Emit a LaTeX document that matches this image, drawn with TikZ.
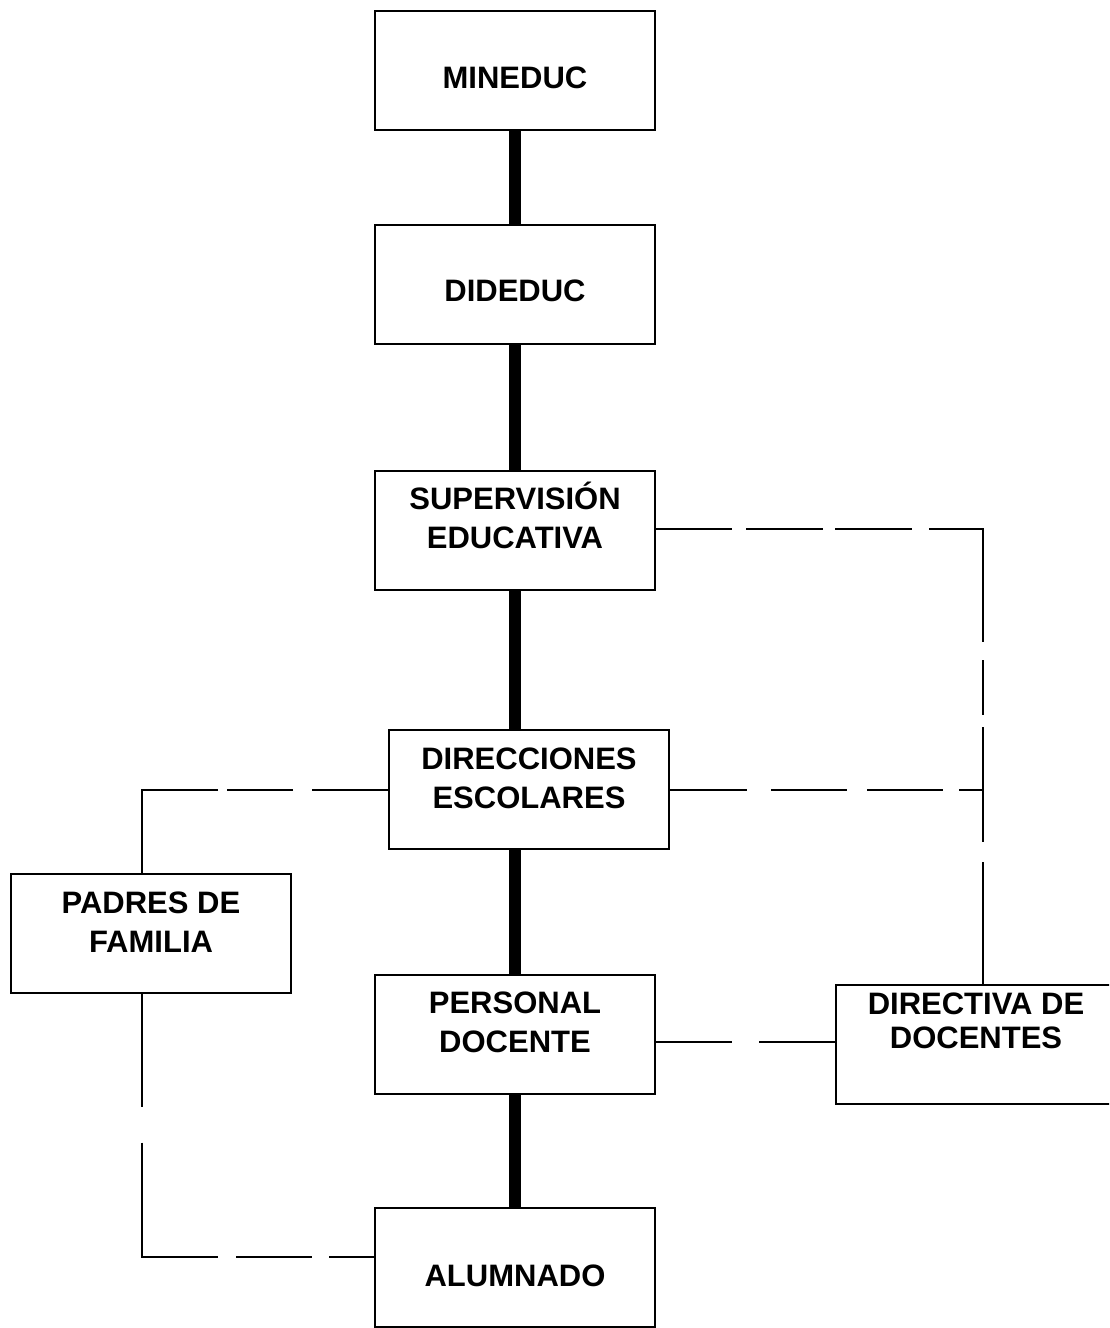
\documentclass[tikz,border=0pt]{standalone}
\usepackage{fontspec}
\setmainfont{Liberation Sans}
\usetikzlibrary{calc, positioning}

\begin{document}
\begin{tikzpicture}[x=0.5pt, y=-0.5pt,
  box/.style={draw, line width=1pt, minimum width=140pt, minimum height=59.5pt, inner sep=0pt},
  txt/.style={font=\bfseries\fontsize{15.5}{19.5}\selectfont, align=center, inner sep=0pt},
  trunk/.style={line width=6pt},
  link/.style={line width=1pt}]
\useasboundingbox (0,0) rectangle (1109,1328);
\clip (0,0) rectangle (1109,1328);
\node[box, label={[txt, yshift=-3.5pt]center:MINEDUC}] (mineduc) at (515,70.5) {};
\node[box, below = 46.5pt of mineduc, label={[txt, yshift=-3pt]center:DIDEDUC}] (dideduc) {};
\node[box, below = 62.5pt of dideduc, label={[txt, yshift=7.75pt]center:SUPERVISIÓN\\EDUCATIVA}] (superv) {};
\node[box, below = 69pt of superv, xshift=7pt, label={[txt, yshift=5.5pt]center:DIRECCIONES\\ESCOLARES}] (direc) {};
\node[box, below = 62pt of direc, xshift=-7pt, label={[txt, yshift=6pt]center:PERSONAL\\DOCENTE}] (personal) {};
\node[box, below = 56pt of personal, label={[txt, yshift=-4.25pt]center:ALUMNADO}] (alumnado) {};
\node[box, left = 41pt of personal, yshift=50.75pt, label={[txt, yshift=5.25pt]center:PADRES DE\\FAMILIA}] (padres) {};
\node[box, right = 89.5pt of personal, yshift=-5pt, label={[txt, font=\bfseries\fontsize{15.5}{17}\selectfont, yshift=11.75pt]center:DIRECTIVA DE\\DOCENTES}] (directiva) {};
\coordinate (tap) at ([xshift=3.5pt]directiva.north);
\coordinate (ptop) at ([xshift=-4.5pt]padres.north);
\coordinate (pbot) at ([xshift=-4.5pt]padres.south);
\draw[trunk] (mineduc) -- (dideduc);
\draw[trunk] (dideduc) -- (superv);
\draw[trunk] (superv.south) -- (superv.south |- direc.north);
\draw[trunk] (personal.north |- direc.south) -- (personal.north);
\draw[trunk] (personal) -- (alumnado);
\draw[link, dash pattern=on 38pt off 7pt on 38.5pt off 6pt on 38.5pt off 8.5pt on 83.5pt off 9pt on 27.5pt off 6pt on 57.5pt off 10pt on 70pt]
  ([yshift=0.75pt]superv.east) -| (tap);
\draw[link, dash pattern=on 38.5pt off 12pt on 38pt off 10pt on 38pt off 8pt on 20pt]
  (direc.east) -- (direc.east -| tap);
\draw[link, dash pattern=on 38pt off 9.5pt on 33pt off 4.5pt on 90pt]
  (direc.west) -| (ptop);
\draw[link, dash pattern=on 38pt off 13.5pt on 40pt]
  ([yshift=1.5pt]directiva.west -| personal.east) -- ([yshift=1.5pt]directiva.west);
\draw[link, dash pattern=on 56.5pt off 18pt on 95pt off 9pt on 38pt off 8.5pt on 30pt]
  (pbot) |- ([yshift=5.5pt]alumnado.west);
\end{tikzpicture}
\end{document}
